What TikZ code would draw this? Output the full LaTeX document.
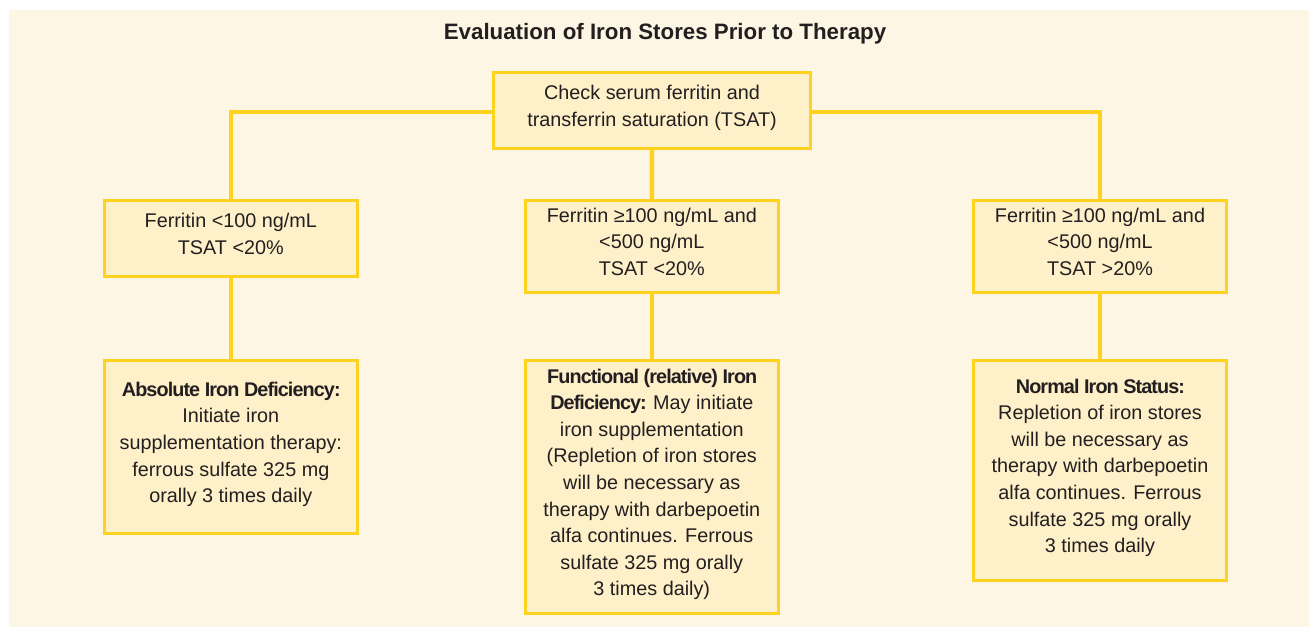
\documentclass[tikz,border=0pt]{standalone}
\usepackage{fontspec}
\setmainfont{Liberation Sans}[BoldFeatures={LetterSpace=-4.6}]
\newfontfamily\titlefont{Liberation Sans}
\usetikzlibrary{positioning}
\definecolor{cream}{HTML}{FEF6E4}
\definecolor{boxfill}{HTML}{FEF0C9}
\definecolor{gold}{HTML}{FDD320}
\definecolor{ink}{HTML}{231F20}
\pgfdeclarelayer{bg}
\pgfsetlayers{bg,main}
\begin{document}
\begin{tikzpicture}[x=1pt,y=1pt,
  box/.style={draw=gold, fill=boxfill, line width=3pt, minimum width=253pt,
    inner sep=0pt, align=center, anchor=north, text=ink, text depth=9pt,
    font=\fontsize{19.8}{26.6}\selectfont},
  conn/.style={draw=gold, line width=4.5pt},
  titlestyle/.style={text=ink, font=\titlefont\bfseries\fontsize{22.3}{26}\selectfont, anchor=base, inner sep=0pt}]
\useasboundingbox (0,0) rectangle (1309,-627);
\begin{pgfonlayer}{bg}
\fill[cream] (9,-10) rectangle (1309,-627);
\end{pgfonlayer}

\node[titlestyle] (title) at (665,-39.5) {Evaluation of Iron Stores Prior to Therapy};

\node[box, minimum width=317pt, minimum height=76pt] (top) at (652,-70.8)
  {Check serum ferritin and\\ transferrin saturation (TSAT)};

\node[box, minimum height=76pt] (l2) at (230.8,-198.8)
  {Ferritin <100 ng/mL\\ TSAT <20\%};
\node[box, minimum height=92pt] (m2) at (651.8,-198.8)
  {Ferritin ≥100 ng/mL and\\ <500 ng/mL\\ TSAT <20\%};
\node[box, minimum height=92pt] (r2) at (1100,-198.8)
  {Ferritin ≥100 ng/mL and\\ <500 ng/mL\\ TSAT >20\%};

\node[box, minimum height=173pt] (l3) at (230.8,-358.8)
  {\textbf{Absolute Iron Deficiency:}\\ Initiate iron\\ supplementation therapy:\\ ferrous sulfate 325 mg\\ orally 3 times daily};
\node[box, minimum height=253pt] (m3) at (651.8,-358.8)
  {\textbf{Functional (relative) Iron}\\ \textbf{Deficiency:} May initiate\\ iron supplementation\\ (Repletion of iron stores\\ will be necessary as\\ therapy with darbepoetin\\ alfa continues. Ferrous\\ sulfate 325 mg orally\\ 3 times daily)};
\node[box, minimum height=220pt] (r3) at (1100,-358.8)
  {\textbf{Normal Iron Status:}\\ Repletion of iron stores\\ will be necessary as\\ therapy with darbepoetin\\ alfa continues. Ferrous\\ sulfate 325 mg orally\\ 3 times daily};

\coordinate (jl) at (230.8,-112);
\coordinate (jr) at (1100,-112);

\begin{pgfonlayer}{bg}
\draw[conn] (l2.north) -- (jl) -- (jr) -- (r2.north);
\draw[conn] (top.south) -- (m2.north);
\draw[conn] (l2.south) -- (l3.north);
\draw[conn] (m2.south) -- (m3.north);
\draw[conn] (r2.south) -- (r3.north);
\end{pgfonlayer}
\end{tikzpicture}
\end{document}
